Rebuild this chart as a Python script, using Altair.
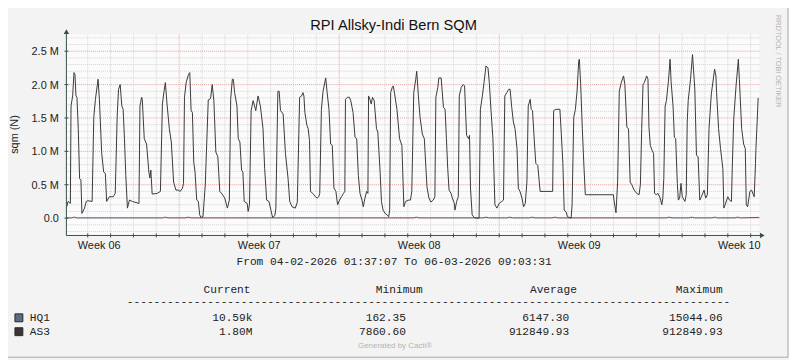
import altair as alt
import pandas as pd

# ---------------- text content ----------------
TITLE = "RPI Allsky-Indi Bern SQM"
Y_TITLE = "sqm (N)"
SIDE_TEXT = "RRDTOOL / TOBI OETIKER"
FOOTER = "Generated by Cacti®"
PERIOD = "From 04-02-2026 01:37:07 To 06-03-2026 09:03:31"

# ---------------- time frame (hours since 04-02-2026 01:37:07) ----------------
span_hours = 727.44
first_midnight = 22.381
monday_hours = [118.381, 286.381, 454.381, 622.381]
week_label_hours = [34.38, 202.38, 370.38, 538.38, 706.38]
week_labels = ["Week 06", "Week 07", "Week 08", "Week 09", "Week 10"]

# ---------------- y axis (millions) ----------------
y_domain = [-0.26, 2.75]
y_major = [0.0, 0.5, 1.0, 1.5, 2.0, 2.5]
y_major_labels = ["0.0", "0.5 M", "1.0 M", "1.5 M", "2.0 M", "2.5 M"]

# ---------------- legend table ----------------
series_names = ["HQ1", "AS3"]
series_colors = ["#5d6a80", "#3b3434"]
stats_header = ["Current", "Minimum", "Average", "Maximum"]
hq1_stats = ["10.59k", "162.35", "6147.30", "15044.06"]
as3_stats = ["1.80M", "7860.60", "912849.93", "912849.93"]

# ---------------- AS3 series (hours, millions) ----------------
as3_hours = [
    0.35, 1.73, 4.16, 4.85, 6.58, 7.97, 9.00, 10.04, 11.08, 12.47, 13.85, 15.24, 16.28, 19.05, 20.78, 22.51, 27.01,
    28.74, 30.48, 33.25, 34.63, 37.06, 39.13, 40.87, 42.25, 45.02, 49.18, 51.26,
    53.33, 54.72, 56.45, 58.18, 59.57, 60.95, 62.34, 64.07, 66.15, 69.26, 76.19,
    77.23, 78.96, 79.65, 81.73, 84.16, 86.58, 87.62, 88.66, 90.04, 95.24, 98.70,
    100.78, 102.51, 103.90, 105.63, 108.05, 110.13, 112.55, 114.98, 117.40, 119.48, 121.90, 122.94,
    123.98, 125.71, 128.14, 129.52, 130.91, 132.29, 133.68, 135.06, 136.80, 138.53, 139.91, 141.30, 143.38,
    145.80, 148.92, 151.34, 153.07, 154.81, 156.88, 158.96, 161.04, 163.46, 166.23, 169.00, 171.08,
    172.47, 174.20, 175.24, 176.62, 179.05, 180.43, 182.16, 183.90, 185.28, 186.67, 189.78, 190.82, 192.21,
    193.94, 196.02, 198.79, 201.21, 203.64, 206.41, 208.14, 210.22, 212.64, 214.72, 216.45, 218.87, 219.91,
    221.99, 223.38, 224.76, 227.53, 229.96, 232.73, 234.46, 236.88, 240.35, 242.42,
    244.85, 246.93, 248.31, 249.35, 250.39, 252.47, 253.85, 255.24, 256.28, 258.70, 261.47, 263.20, 264.93, 265.97,
    267.71, 269.44, 272.21, 273.59, 275.67, 277.40, 279.13, 280.87, 282.94, 284.68, 286.75, 288.83, 290.91, 292.29,
    292.99, 295.06, 297.14, 298.53, 300.95, 303.03, 304.76, 306.49, 308.22, 310.30, 311.69, 313.42, 315.15, 316.54,
    317.23, 318.61, 320.00, 321.38, 323.12, 325.54, 326.93, 329.35, 330.74, 332.47, 334.55, 336.62, 338.35, 339.39,
    340.43, 342.16, 343.20, 344.59, 347.01, 349.78, 352.21, 354.29, 356.02, 359.48, 361.21, 362.60,
    363.64, 364.67, 366.75, 367.79, 369.52, 371.26, 373.68, 375.76, 378.53, 380.61, 382.68, 385.11, 386.84,
    387.88, 389.96, 390.99, 393.42, 394.46, 395.84, 397.58, 398.96, 400.35, 401.73, 403.81, 405.19, 407.27, 407.96, 409.70, 411.43,
    412.47, 414.55, 416.62, 418.01, 420.09, 422.16, 423.20, 424.24, 425.97, 428.05, 431.17, 433.25,
    434.63, 436.71, 438.44, 440.52, 442.60, 443.98, 445.71, 447.79, 449.87, 451.95, 454.37, 457.14, 458.87,
    460.26, 462.34, 464.41, 465.80, 467.53, 469.26, 471.00, 473.07, 474.46, 476.19, 478.27, 480.00, 481.73, 483.46,
    484.85, 486.92, 487.96, 489.35, 491.43, 492.81, 494.89, 497.32, 510.48,
    511.51, 513.94, 518.09, 519.48, 521.21, 522.60, 524.67, 526.06, 529.87, 530.91,
    532.64, 534.37, 536.10, 537.83, 538.53, 539.91, 541.64, 543.03, 544.76, 574.20, 574.89, 576.97,
    578.70, 580.43, 582.51, 584.93, 586.32, 588.40, 590.13, 591.86, 593.59, 596.02, 598.79, 601.20, 602.59,
    603.98, 605.37, 606.75, 609.18, 610.56, 611.60, 612.99, 615.06, 616.45, 617.49, 619.22, 620.95, 623.38, 625.11, 626.15,
    627.18, 628.57, 629.96, 632.03, 633.77, 634.81, 636.88, 638.27, 639.65, 641.39, 642.43, 643.81, 645.20, 646.58, 649.35, 650.74,
    651.77, 652.81, 655.24, 657.31, 659.05, 659.74, 661.47, 663.20, 664.93, 666.66, 669.44, 671.17, 672.90,
    674.63, 677.06, 680.52, 681.90, 682.60, 684.67, 686.75, 689.18, 690.22, 691.60, 694.37, 696.10, 698.18,
    699.22, 700.60, 703.03, 705.45, 706.49, 708.92, 710.99, 712.73, 713.76, 715.15, 717.57, 719.31, 722.08,
    723.46, 723.81, 725.54, 726.23,
]
as3_values = [
    0.17, 0.25, 0.22, 1.68, 1.83, 2.18, 2.15, 1.83, 1.81, 1.34, 0.59, 0.57, 0.07, 0.15, 0.25, 0.26, 0.25,
    1.51, 1.78, 2.08, 1.78, 0.97, 0.69, 0.67, 0.25, 0.32, 0.32, 0.37,
    1.53, 1.93, 2.00, 1.68, 1.63, 1.19, 0.64, 0.15, 0.27, 0.25, 0.22,
    1.68, 1.81, 1.78, 1.19, 1.11, 0.69, 0.60, 0.72, 0.36, 0.37, 0.40,
    1.71, 1.90, 2.03, 1.71, 1.34, 1.14, 0.54, 0.42, 0.42, 0.40, 0.45, 0.52,
    1.81, 2.03, 2.15, 2.18, 1.61, 1.58, 0.84, 0.69, 0.27, 0.25, 0.05, 0.01, 0.02,
    0.50, 1.77, 1.79, 2.00, 1.76, 0.99, 0.92, 0.40, 0.36, 0.30, 0.15, 0.27,
    1.78, 2.08, 2.08, 1.88, 1.68, 1.19, 1.14, 0.72, 0.69, 0.25, 0.22, 0.10, 0.20,
    1.61, 1.76, 1.61, 1.83, 1.68, 1.34, 0.74, 0.27, 0.25, 0.12, 0.01, 0.04, 0.15,
    1.90, 1.90, 1.61, 1.56, 0.97, 0.59, 0.25, 0.17, 0.15, 0.24,
    1.81, 1.83, 1.88, 1.83, 1.58, 1.39, 1.34, 1.16, 0.40, 0.37, 0.32, 0.30, 0.32, 0.37,
    1.63, 1.90, 2.10, 1.90, 1.63, 1.11, 1.09, 0.45, 0.40, 0.20, 0.27, 0.32, 0.37, 0.40,
    1.78, 1.81, 1.81, 1.76, 1.58, 1.21, 1.19, 0.64, 0.37, 0.27, 0.17, 0.30, 0.40, 0.37,
    1.83, 1.78, 1.71, 1.81, 1.76, 1.34, 1.29, 0.69, 0.25, 0.12, 0.07, 0.05, 0.02, 0.12,
    1.88, 1.96, 1.98, 1.86, 1.63, 1.19, 1.09, 0.17, 0.25, 0.27, 0.27, 0.40,
    1.14, 1.88, 2.08, 2.20, 1.83, 1.51, 1.26, 1.19, 0.47, 0.30, 0.24, 0.27, 0.32,
    1.81, 1.96, 2.10, 2.10, 1.91, 1.66, 1.63, 1.19, 0.74, 0.42, 0.37, 0.30, 0.22, 0.12, 0.25, 0.32,
    1.83, 1.96, 2.00, 1.98, 1.24, 1.19, 1.24, 0.45, 0.05, 0.01, 0.00, 0.00,
    1.63, 1.83, 2.03, 2.28, 2.25, 2.03, 1.63, 1.19, 0.20, 0.15, 0.22, 0.25, 0.27,
    1.83, 1.88, 1.93, 1.93, 1.66, 1.44, 1.34, 1.04, 0.45, 0.40, 0.30, 0.17, 0.22, 0.54,
    1.68, 1.78, 1.63, 1.61, 1.11, 0.82, 0.79, 0.40, 0.40,
    1.61, 1.63, 1.63, 1.29, 0.82, 0.12, 0.09, 0.02, 0.00, 0.20,
    1.51, 1.63, 1.90, 2.35, 2.38, 2.00, 1.34, 0.87, 0.35, 0.35, 0.27, 0.08,
    0.54, 1.90, 2.03, 2.13, 2.00, 1.36, 1.34, 0.54, 0.50, 0.42, 0.37, 0.35, 0.50,
    1.34, 2.00, 2.03, 2.13, 2.08, 1.36, 1.09, 1.01, 0.97, 0.37, 0.35, 0.37, 0.30, 0.20, 0.30,
    0.59, 1.68, 1.76, 2.05, 2.38, 2.05, 1.68, 1.21, 1.19, 0.52, 0.27, 0.30, 0.52, 0.32, 0.25, 0.35,
    1.44, 1.76, 2.08, 2.45, 2.08, 1.93, 0.94, 0.92, 0.27, 0.32, 0.42, 0.30, 0.35,
    1.34, 1.86, 2.23, 2.13, 1.88, 1.34, 1.04, 0.74, 0.15, 0.20, 0.32, 0.27, 0.25,
    0.84, 1.49, 1.98, 2.38, 2.08, 1.34, 1.11, 1.04, 0.20, 0.17, 0.40, 0.42, 0.32,
    0.82, 1.01, 1.56, 1.80,
]

# ---------------- HQ1 series (hours, millions) ----------------
hq1_hours = [0.0, 5.3, 8.3, 11.3, 100.9, 103.9, 106.9, 124.8, 127.8, 130.8,
             364.5, 367.5, 370.5, 437.5, 440.5, 443.5, 462.5, 465.5, 468.5,
             486.0, 489.0, 492.0, 509.9, 512.9, 515.9, 629.7, 632.7, 635.7,
             653.6, 656.6, 659.6, 677.5, 680.5, 683.5, 701.8, 704.8, 707.8, 727.4]
hq1_values = [0.004, 0.004, 0.015, 0.004, 0.004, 0.015, 0.004, 0.004, 0.015, 0.004,
              0.004, 0.015, 0.004, 0.004, 0.015, 0.004, 0.004, 0.015, 0.004,
              0.004, 0.015, 0.004, 0.004, 0.015, 0.004, 0.004, 0.015, 0.004,
              0.004, 0.015, 0.004, 0.004, 0.015, 0.004, 0.004, 0.015, 0.004, 0.0106]

# ---------------- styling ----------------
W, H = 700, 203
OX, OY = 67, 33          # page position of the plot origin
BG = "#f3f3f3"
PLOT_BG = "#fbfbfb"
AXIS = "#35524a"
MINOR = "#d4d4d4"
MAJOR = "#e6a2a2"
SANS = "Liberation Sans"
MONO = "Liberation Mono"

xs = alt.Scale(domain=[0, span_hours], nice=False, zero=False)
ys = alt.Scale(domain=y_domain, nice=False, zero=False)

day_lines = []
k = 0
while first_midnight + 24 * k < span_hours:
    hv = round(first_midnight + 24 * k, 3)
    if all(abs(hv - m) > 0.01 for m in monday_hours):
        day_lines.append(hv)
    k += 1
all_day_lines = sorted(day_lines + monday_hours)

y_minor = []
for i in range(-2, 28):
    v = round(i / 10, 1)
    if abs(v * 2 - round(v * 2)) > 1e-9:
        y_minor.append(v)

one = pd.DataFrame({"a": [0]})


def txt(s, px, py, size, font=SANS, align="left", color="#222222", angle=0, baseline="alphabetic"):
    return alt.Chart(one).mark_text(
        text=s, font=font, fontSize=size, align=align, baseline=baseline, color=color, angle=angle
    ).encode(x=alt.value(px - OX), y=alt.value(py - OY))


layers = []

# grid
layers.append(alt.Chart(pd.DataFrame({"v": y_minor})).mark_rule(color=MINOR, strokeDash=[1, 1], strokeWidth=1)
              .encode(y=alt.Y("v:Q", scale=ys, axis=None)))
layers.append(alt.Chart(pd.DataFrame({"h": day_lines})).mark_rule(color=MINOR, strokeDash=[1, 1], strokeWidth=1)
              .encode(x=alt.X("h:Q", scale=xs, axis=None)))
layers.append(alt.Chart(pd.DataFrame({"v": y_major})).mark_rule(color=MAJOR, strokeDash=[1, 1], strokeWidth=1)
              .encode(y=alt.Y("v:Q", scale=ys, axis=None)))
layers.append(alt.Chart(pd.DataFrame({"h": monday_hours})).mark_rule(color=MAJOR, strokeDash=[1, 1], strokeWidth=1)
              .encode(x=alt.X("h:Q", scale=xs, axis=None)))

# series
layers.append(alt.Chart(pd.DataFrame({"h": hq1_hours, "v": hq1_values})).mark_line(color="#525a78", strokeWidth=1)
              .encode(x=alt.X("h:Q", scale=xs, axis=None), y=alt.Y("v:Q", scale=ys, axis=None), order="h:Q"))
layers.append(alt.Chart(pd.DataFrame({"h": as3_hours, "v": as3_values})).mark_line(color="#3a3a3a", strokeWidth=1)
              .encode(x=alt.X("h:Q", scale=xs, axis=None), y=alt.Y("v:Q", scale=ys, axis=None), order="h:Q"))

# axes
layers.append(alt.Chart(one).mark_rule(color=AXIS, strokeWidth=1)
              .encode(x=alt.value(0), y=alt.value(-2), y2=alt.value(H)))
layers.append(alt.Chart(one).mark_rule(color=AXIS, strokeWidth=1)
              .encode(y=alt.value(H), x=alt.value(0), x2=alt.value(W + 2)))
layers.append(alt.Chart(one).mark_point(shape="triangle-up", filled=True, size=30, color=AXIS, opacity=1)
              .encode(x=alt.value(0), y=alt.value(-3)))
layers.append(alt.Chart(one).mark_point(shape="triangle-right", filled=True, size=30, color=AXIS, opacity=1)
              .encode(x=alt.value(W + 3), y=alt.value(H)))
layers.append(alt.Chart(pd.DataFrame({"h": all_day_lines})).mark_rule(color=AXIS, strokeWidth=1)
              .encode(x=alt.X("h:Q", scale=xs, axis=None), y=alt.value(H - 2), y2=alt.value(H + 2)))
layers.append(alt.Chart(pd.DataFrame({"v": y_major})).mark_rule(color=AXIS, strokeWidth=1)
              .encode(y=alt.Y("v:Q", scale=ys, axis=None), x=alt.value(-2), x2=alt.value(2)))

# axis labels
layers.append(alt.Chart(pd.DataFrame({"v": y_major, "t": y_major_labels}))
              .mark_text(font=SANS, fontSize=11, align="right", baseline="alphabetic", dy=4, color="#222222")
              .encode(y=alt.Y("v:Q", scale=ys, axis=None), x=alt.value(59.3 - OX), text="t:N"))
layers.append(alt.Chart(pd.DataFrame({"h": week_label_hours, "t": week_labels}))
              .mark_text(font=SANS, fontSize=11, align="center", baseline="alphabetic", color="#222222")
              .encode(x=alt.X("h:Q", scale=xs, axis=None), y=alt.value(249.3 - OY), text="t:N"))

# titles and side texts
layers.append(txt(TITLE, 397.5, 28.3, 14.8, align="center", color="#111111"))
layers.append(txt(Y_TITLE, 18, 134, 11, align="center", angle=270))
layers.append(txt(SIDE_TEXT, 783.5, 60, 7.4, align="center", angle=90, color="#b4b4b4"))
layers.append(txt(FOOTER, 399, 350, 8, align="center", color="#b4b4b4"))

# legend block
LEG = 11.3
layers.append(txt(PERIOD, 398, 266, LEG, font=MONO, align="center"))
header_right = [253, 427, 582.7, 730]
value_right = [255, 410, 575, 730]
for s, xr in zip(stats_header, header_right):
    layers.append(txt(s, xr, 294.3, LEG, font=MONO, align="right"))
layers.append(txt("-" * 90, 128, 306.3, LEG, font=MONO, align="left"))
for row, (name, col, stats) in enumerate(zip(series_names, series_colors, [hq1_stats, as3_stats])):
    by = 322.7 + row * 14
    layers.append(alt.Chart(one).mark_square(size=64, filled=True, color=col, stroke="#2a2a2a", strokeWidth=1, opacity=1)
                  .encode(x=alt.value(19 - OX), y=alt.value(by - 3.5 - OY)))
    layers.append(txt(name, 30, by, LEG, font=MONO, align="left"))
    for s, xr in zip(stats, value_right):
        layers.append(txt(s, xr, by, LEG, font=MONO, align="right"))

# frame (right / bottom edges)
layers.append(alt.Chart(one).mark_rule(color="#a8a8a8", strokeWidth=1)
              .encode(x=alt.value(796 - OX), y=alt.value(-OY), y2=alt.value(359 - OY)))
layers.append(alt.Chart(one).mark_rule(color="#a8a8a8", strokeWidth=1)
              .encode(y=alt.value(359 - OY), x=alt.value(-OX), x2=alt.value(796 - OX)))

chart = alt.layer(*layers).properties(
    width=W,
    height=H,
    padding={"left": OX - 8, "top": OY - 8, "right": 789 - (OX - 8) - W, "bottom": 352 - (OY - 8) - H},
    autosize=alt.AutoSizeParams(type="none"),
    background=BG,
).configure_view(stroke=None, fill=PLOT_BG)

chart.save("out.html", embed_options={"renderer": "svg", "actions": False})
